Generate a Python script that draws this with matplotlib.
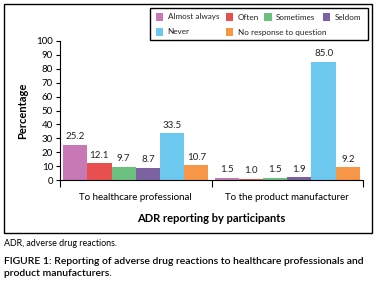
import matplotlib
matplotlib.use("Agg")
import matplotlib.pyplot as plt
import matplotlib.patches as mpatches
import numpy as np

plt.rcParams['font.family'] = ['Lato', 'DejaVu Sans']

groups = ["To healthcare professional", "To the product manufacturer"]
series = ["Almost always", "Often", "Sometimes", "Seldom", "Never", "No response to question"]
values = {
    "Almost always": [25.2, 1.5],
    "Often": [12.1, 1.0],
    "Sometimes": [9.7, 1.5],
    "Seldom": [8.7, 1.9],
    "Never": [33.5, 85.0],
    "No response to question": [10.7, 9.2],
}
colors = ["#C878B4", "#E8504F", "#6CC07F", "#7C62A0", "#6CC8EE", "#F79646"]
yticks = list(range(0, 101, 10))

W, H = 377, 286
fig = plt.figure(figsize=(W/100, H/100), dpi=100)
ax = fig.add_axes([60/W, 1-180/H, 303/W, 139/H])

x = np.arange(len(groups))
bw = 0.16
for i, (s, c) in enumerate(zip(series, colors)):
    offs = (i - 2.5) * bw
    ax.bar(x + offs, values[s], width=bw, color=c, edgecolor='none', label=s)
    for xi, v in zip(x, values[s]):
        ax.text(xi + offs, v + 2.5, f"{v:.1f}", ha='center', va='bottom', fontsize=7, color='#222222')

ax.set_xlim(-0.5, 1.5)
ax.set_ylim(0, 100)
ax.set_yticks(yticks)
ax.tick_params(axis='y', labelsize=7, length=3, width=0.8, pad=2)
ax.set_xticks(x)
ax.set_xticklabels(groups, fontsize=7)
ax.tick_params(axis='x', which='major', length=0, pad=9)
ax.set_xticks([-0.5, 0.5, 1.5], minor=True)
ax.tick_params(axis='x', which='minor', length=5, width=0.8)
for sp in ['top', 'right']:
    ax.spines[sp].set_visible(False)
for sp in ['left', 'bottom']:
    ax.spines[sp].set_linewidth(0.8)
ax.set_ylabel("Percentage", fontsize=8, fontweight='bold', labelpad=6)
ax.set_xlabel("ADR reporting by participants", fontsize=8, fontweight='bold', labelpad=8)

# Legend drawn manually (entries are not on a strict grid in the reference)
fig.add_artist(mpatches.Rectangle((150/W, 1-40/H), 218/W, 32/H, transform=fig.transFigure,
                                  fill=False, edgecolor='black', linewidth=1.0))
leg_pos = {  # (handle left px, row centre px)
    "Almost always": (155.5, 17),
    "Often": (225.5, 17),
    "Sometimes": (264, 17),
    "Seldom": (322.5, 17),
    "Never": (155.5, 32),
    "No response to question": (225.5, 32),
}
for s, c in zip(series, colors):
    hx, hy = leg_pos[s]
    fig.add_artist(mpatches.Rectangle((hx/W, 1-(hy+3.8)/H), 7.6/W, 7.6/H, transform=fig.transFigure,
                                      facecolor=c, edgecolor='none'))
    fig.text((hx + 12)/W, 1-hy/H, s, fontsize=5.9, va='center', ha='left', color='#222222')

fig.add_artist(mpatches.Rectangle((4/W, 1-233/H), 368/W, 229/H, transform=fig.transFigure,
                                  fill=False, edgecolor='black', linewidth=1.0))

fig.text(4/W, 1-243/H, "ADR, adverse drug reactions.", fontsize=6.4, va='center', ha='left')
fig.text(4/W, 1-262/H, "FIGURE 1: Reporting of adverse drug reactions to healthcare professionals and",
         fontsize=7.5, va='center', ha='left', fontweight='semibold')
fig.text(4/W, 1-274/H, "product manufacturers.", fontsize=7.5, va='center', ha='left', fontweight='semibold')

fig.savefig("out.png", dpi=100)
